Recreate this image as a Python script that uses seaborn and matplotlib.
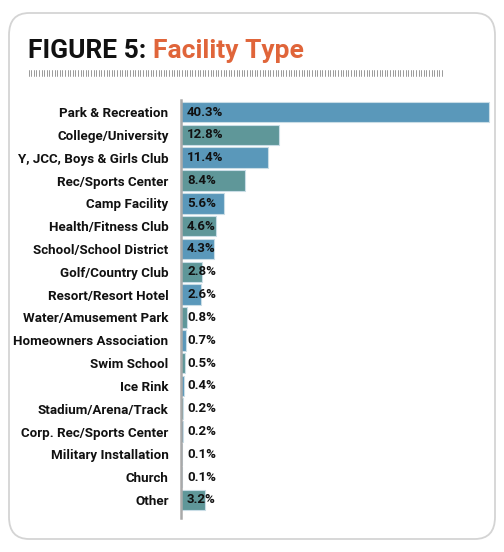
import numpy as np
import pandas as pd
import matplotlib
matplotlib.use("Agg")
import matplotlib.pyplot as plt
import seaborn as sns
from matplotlib.patches import FancyBboxPatch
from matplotlib.lines import Line2D
from matplotlib.transforms import offset_copy

categories = ["Park & Recreation", "College/University", "Y, JCC, Boys & Girls Club",
              "Rec/Sports Center", "Camp Facility", "Health/Fitness Club",
              "School/School District", "Golf/Country Club", "Resort/Resort Hotel",
              "Water/Amusement Park", "Homeowners Association", "Swim School",
              "Ice Rink", "Stadium/Arena/Track", "Corp. Rec/Sports Center",
              "Military Installation", "Church", "Other"]
values = [40.3, 12.8, 11.4, 8.4, 5.6, 4.6, 4.3, 2.8, 2.6, 0.8, 0.7, 0.5, 0.4, 0.2, 0.2, 0.1, 0.1, 3.2]
value_labels = [f"{v:.1f}%" for v in values]
title_black = "FIGURE 5: "
title_orange = "Facility Type"

BLUE = "#5A98BA"
TEAL = "#5F9799"
bar_colors = [BLUE if i % 2 == 0 else TEAL for i in range(len(categories))]

sns.set_style("white")
plt.rcParams['font.family'] = ['Roboto', 'DejaVu Sans']

W, H = 504, 552
fig = plt.figure(figsize=(W / 100, H / 100), dpi=100)

# card border
card = FancyBboxPatch((9 / W, 1 - 539 / H), 486 / W, 526 / H,
                      boxstyle="round,pad=0,rounding_size=0.04",
                      transform=fig.transFigure, facecolor="none",
                      edgecolor="#d4d4d4", linewidth=1.3, zorder=-1)
fig.patches.append(card)

# title
t1 = fig.text(28 / W, 1 - 58 / H, title_black, fontsize=19, fontweight="bold",
              color="#111111", ha="left", va="baseline", family="Roboto")
fig.canvas.draw()
bb = t1.get_window_extent()
fig.text(bb.x1 / W, 1 - 58 / H, title_orange, fontsize=19, fontweight="bold",
         color="#E0653A", ha="left", va="baseline", family="Roboto")

# dashed rule
for x in np.arange(28.5, 442, 2.6):
    fig.add_artist(Line2D([x / W, x / W], [1 - 70 / H, 1 - 76 / H],
                          transform=fig.transFigure, color="#8a8a8a", lw=0.6))

# axes
ax_left, ax_right = 181, 491
ax_top, ax_bot = 100, 518
ax = fig.add_axes([ax_left / W, 1 - ax_bot / H, (ax_right - ax_left) / W, (ax_bot - ax_top) / H])
ax.set_facecolor("none")

df = pd.DataFrame({"category": categories, "value": values})
sns.barplot(data=df, x="value", y="category", hue="category", palette=bar_colors,
            legend=False, orient="h", width=0.9, ax=ax, edgecolor="#c9dde6", linewidth=0.8,
            saturation=1)

ax.set_xlim(0, 40.3 * (ax_right - ax_left) / 308)
ax.set_ylim(17.79, -0.53)
ax.set_xlabel("")
ax.set_ylabel("")
ax.set_xticks([])
for s in ["top", "right", "bottom"]:
    ax.spines[s].set_visible(False)
ax.spines["left"].set_color("#a9a9a9")
ax.spines["left"].set_linewidth(1.8)
ax.tick_params(axis="y", length=0, pad=9)
for lab in ax.get_yticklabels():
    lab.set_fontsize(9.6)
    lab.set_fontweight("bold")
    lab.set_color("#111111")

trans = offset_copy(ax.transData, fig=fig, x=6, y=0, units="dots")
for i, (v, lab) in enumerate(zip(values, value_labels)):
    ax.text(0, i, lab, transform=trans, ha="left", va="center", fontsize=9.5,
            fontweight="bold", color="#111111", zorder=5)

fig.savefig("out.png", dpi=100)
